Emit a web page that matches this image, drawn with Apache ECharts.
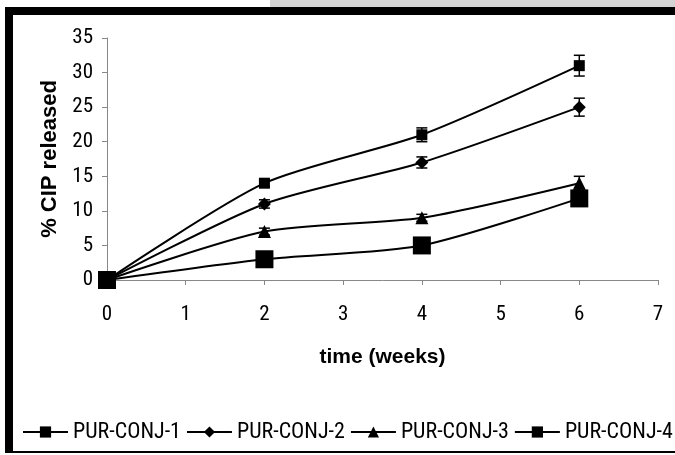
<!DOCTYPE html>
<html>
<head>
<meta charset="utf-8">
<script src="https://cdn.jsdelivr.net/npm/echarts@6/dist/echarts.min.js"></script>
<style>
  html, body { margin: 0; padding: 0; background: #fff; }
  #main { width: 675px; height: 455px; }
</style>
</head>
<body>
<div id="main"></div>
<script>
var weeks = [0, 2, 4, 6];
var names = ['PUR-CONJ-1', 'PUR-CONJ-2', 'PUR-CONJ-3', 'PUR-CONJ-4'];
var conj1 = [0, 14, 21, 31];
var conj2 = [0, 11, 17, 25];
var conj3 = [0, 7, 9, 14];
var conj4 = [0, 3, 5, 11.8];
var err1 = [0, 0.5, 1, 1.5];
var err2 = [0, 0.6, 0.8, 1.3];
var err3 = [0, 0.5, 0.5, 1];

var narrow = '"Roboto Condensed", "Liberation Sans", sans-serif';
var bold = '"Liberation Sans", Arial, sans-serif';
var myChart = echarts.init(document.getElementById('main'));

function pairs(vals) {
  return weeks.map(function (w, i) { return [w, vals[i]]; });
}

function errData(vals, errs) {
  return weeks.map(function (w, i) { return [w, vals[i] - errs[i], vals[i] + errs[i]]; });
}

// vertical error bars with caps
function errSeries(vals, errs) {
  return {
    type: 'custom',
    data: errData(vals, errs),
    z: 1,
    silent: true,
    renderItem: function (params, api) {
      var lo = api.coord([api.value(0), api.value(1)]);
      var hi = api.coord([api.value(0), api.value(2)]);
      var w = 5.5;
      var st = { stroke: '#000', lineWidth: 1.5 };
      return {
        type: 'group',
        children: [
          { type: 'line', shape: { x1: lo[0], y1: lo[1], x2: hi[0], y2: hi[1] }, style: st },
          { type: 'line', shape: { x1: lo[0] - w, y1: lo[1], x2: lo[0] + w, y2: lo[1] }, style: st },
          { type: 'line', shape: { x1: hi[0] - w, y1: hi[1], x2: hi[0] + w, y2: hi[1] }, style: st }
        ]
      };
    }
  };
}

function lineSeries(name, vals, symbol, size) {
  return {
    name: name,
    type: 'line',
    data: pairs(vals),
    smooth: 0.25,
    symbol: symbol,
    symbolSize: size,
    showAllSymbol: true,
    z: 3,
    lineStyle: { color: '#000', width: 2 },
    itemStyle: { color: '#000' }
  };
}

var option = {
  animation: false,
  backgroundColor: '#fff',
  graphic: [
    { type: 'rect', shape: { x: 270, y: 0, width: 405, height: 7 }, style: { fill: '#d4d4d4' } },
    { type: 'rect', shape: { x: 5, y: 7, width: 670, height: 8 }, style: { fill: '#000' } },
    { type: 'rect', shape: { x: 5, y: 7, width: 8, height: 446 }, style: { fill: '#000' } },
    { type: 'rect', shape: { x: 5, y: 451, width: 670, height: 2 }, style: { fill: '#000' } }
  ],
  grid: { left: 107, right: 17, top: 38, bottom: 175 },
  legend: {
    data: names,
    orient: 'horizontal',
    left: 22,
    top: 421,
    width: 675,
    padding: 0,
    itemWidth: 45,
    itemHeight: 14,
    itemGap: 5,
    textStyle: { fontFamily: narrow, fontSize: 22, color: '#000' }
  },
  xAxis: {
    type: 'value',
    min: 0,
    max: 7,
    interval: 1,
    name: 'time (weeks)',
    nameLocation: 'middle',
    nameGap: 67,
    nameTextStyle: { fontFamily: bold, fontSize: 21, fontWeight: 'bold', color: '#000' },
    axisLine: { lineStyle: { color: '#888', width: 1 } },
    axisTick: { lineStyle: { color: '#888' }, length: 5 },
    axisLabel: { fontFamily: narrow, fontSize: 21, color: '#000', margin: 24 },
    splitLine: { show: false }
  },
  yAxis: {
    type: 'value',
    min: 0,
    max: 35,
    interval: 5,
    name: '% CIP released',
    nameLocation: 'middle',
    nameGap: 41,
    nameTextStyle: { fontFamily: bold, fontSize: 22, fontWeight: 'bold', color: '#000' },
    axisLine: { show: true, lineStyle: { color: '#888', width: 1 } },
    axisTick: { show: true, lineStyle: { color: '#888' }, length: 5 },
    axisLabel: { fontFamily: narrow, fontSize: 21, color: '#000', margin: 14 },
    splitLine: { show: false }
  },
  series: [
    errSeries(conj1, err1),
    errSeries(conj2, err2),
    errSeries(conj3, err3),
    lineSeries(names[0], conj1, 'rect', 11),
    lineSeries(names[1], conj2, 'diamond', 13),
    lineSeries(names[2], conj3, 'triangle', 13),
    lineSeries(names[3], conj4, 'rect', 18)
  ]
};

myChart.setOption(option);
</script>
</body>
</html>
